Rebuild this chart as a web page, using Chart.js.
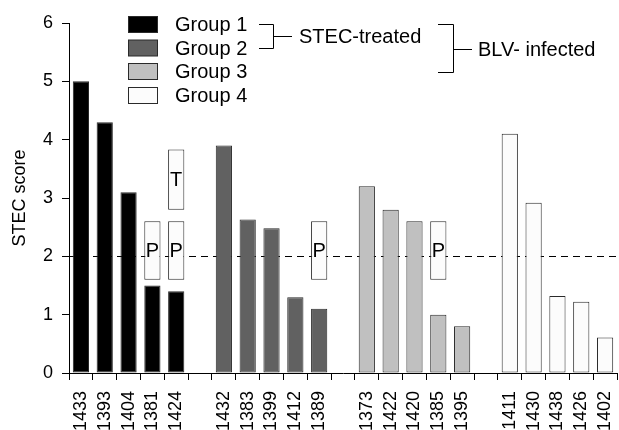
<!DOCTYPE html>
<html>
<head>
<meta charset="utf-8">
<script src="https://cdn.jsdelivr.net/npm/chart.js@4"></script>
<style>
  html, body { margin: 0; padding: 0; background: #fff; }
  #wrap { width: 619px; height: 430px; position: relative; }
</style>
</head>
<body>
<div id="wrap"><canvas id="c" width="619" height="430"></canvas></div>
<script>
// ---- Data ----
const groupNames = ['Group 1', 'Group 2', 'Group 3', 'Group 4'];
const group1Labels = ['1433', '1393', '1404', '1381', '1424'];
const group1Values = [5.0, 4.3, 3.1, 1.5, 1.4];
const group2Labels = ['1432', '1383', '1399', '1412', '1389'];
const group2Values = [3.9, 2.63, 2.48, 1.3, 1.1];
const group3Labels = ['1373', '1422', '1420', '1385', '1395'];
const group3Values = [3.2, 2.8, 2.6, 1.0, 0.8];
const group4Labels = ['1411', '1430', '1438', '1426', '1402'];
const group4Values = [4.1, 2.92, 1.32, 1.22, 0.61];
const groupColors = ['#000000', '#616161', '#c0c0c0', '#fcfcfc'];
// annotation boxes
const pBoxAnimals = ['1381', '1424', '1389', '1385'];
const pBoxRange = [1.6, 2.6];
const tBoxAnimals = ['1424'];
const tBoxRange = [2.8, 3.83];
const threshold = 2;
const yTicks = [0, 1, 2, 3, 4, 5, 6];

// ---- Build categories with blank gaps between groups ----
const groupLabels = [group1Labels, group2Labels, group3Labels, group4Labels];
const groupValues = [group1Values, group2Values, group3Values, group4Values];
const labels = [];
const groupIndexOfSlot = [];
groupLabels.forEach((g, gi) => {
  if (gi > 0) { labels.push(''); groupIndexOfSlot.push(-1); }
  g.forEach(l => { labels.push(l); groupIndexOfSlot.push(gi); });
});

const datasets = groupNames.map((name, gi) => ({
  label: name,
  data: labels.map((l, i) => {
    if (groupIndexOfSlot[i] !== gi) return null;
    return groupValues[gi][groupLabels[gi].indexOf(l)];
  }),
  backgroundColor: groupColors[gi],
  borderColor: '#2a2a2a',
  borderWidth: 1,
  borderSkipped: false,
  grouped: false,
  barPercentage: 0.68,
  categoryPercentage: 1.0,
  order: 2
}));

function boxData(animals, range) {
  return labels.map(l => (l && animals.includes(l)) ? [range[0], range[1]] : null);
}
datasets.push({
  label: 'P', letter: 'P', data: boxData(pBoxAnimals, pBoxRange),
  backgroundColor: '#fcfcfc', borderColor: '#2a2a2a', borderWidth: 1, borderSkipped: false,
  grouped: false, barPercentage: 0.68, categoryPercentage: 1.0, order: 1
});
datasets.push({
  label: 'T', letter: 'T', data: boxData(tBoxAnimals, tBoxRange),
  backgroundColor: '#fcfcfc', borderColor: '#2a2a2a', borderWidth: 1, borderSkipped: false,
  grouped: false, barPercentage: 0.68, categoryPercentage: 1.0, order: 1
});

const FONT = '"Liberation Sans", Arial, sans-serif';

const thresholdPlugin = {
  id: 'threshold',
  beforeDatasetsDraw(chart) {
    const { ctx, chartArea, scales } = chart;
    const y = Math.round(scales.y.getPixelForValue(threshold)) + 0.5;
    ctx.save();
    ctx.strokeStyle = '#000';
    ctx.lineWidth = 1;
    ctx.setLineDash([7, 5]);
    ctx.beginPath();
    ctx.moveTo(chartArea.left, y);
    ctx.lineTo(chartArea.right, y);
    ctx.stroke();
    ctx.restore();
  }
};

const annotPlugin = {
  id: 'annot',
  afterDatasetsDraw(chart) {
    const { ctx } = chart;
    ctx.save();
    ctx.fillStyle = '#000';
    ctx.font = '20px ' + FONT;
    ctx.textAlign = 'center';
    ctx.textBaseline = 'middle';
    chart.data.datasets.forEach((ds, di) => {
      if (!ds.letter) return;
      const meta = chart.getDatasetMeta(di);
      meta.data.forEach((el, i) => {
        if (ds.data[i] == null) return;
        const p = el.getProps(['x', 'y', 'base'], true);
        ctx.fillText(ds.letter, p.x, (p.y + p.base) / 2 + 1);
      });
    });
    ctx.restore();
  }
};

const legendPlugin = {
  id: 'customLegend',
  afterDraw(chart) {
    const { ctx } = chart;
    ctx.save();
    const rowY = [24.5, 48, 71.5, 95.5];
    ctx.font = '20px ' + FONT;
    ctx.textBaseline = 'middle';
    ctx.textAlign = 'left';
    groupNames.forEach((n, i) => {
      ctx.fillStyle = groupColors[i];
      ctx.fillRect(128.5, rowY[i] - 8, 29, 16);
      ctx.strokeStyle = '#2a2a2a';
      ctx.lineWidth = 1;
      ctx.strokeRect(128.5, rowY[i] - 8, 29, 16);
      ctx.fillStyle = '#000';
      ctx.fillText(n, 175, rowY[i] + 1);
    });
    // brackets
    ctx.strokeStyle = '#000';
    ctx.lineWidth = 1;
    ctx.beginPath();
    ctx.moveTo(259, 24.5); ctx.lineTo(273.5, 24.5); ctx.lineTo(273.5, 48.5); ctx.lineTo(259, 48.5);
    ctx.moveTo(273.5, 36.5); ctx.lineTo(292, 36.5);
    ctx.moveTo(438, 24.5); ctx.lineTo(453.5, 24.5); ctx.lineTo(453.5, 72.5); ctx.lineTo(438, 72.5);
    ctx.moveTo(453.5, 49.5); ctx.lineTo(472, 49.5);
    ctx.stroke();
    ctx.fillStyle = '#000';
    ctx.fillText('STEC-treated', 299, 37);
    ctx.fillText('BLV- infected', 478, 50);
    ctx.restore();
  }
};

new Chart(document.getElementById('c'), {
  type: 'bar',
  data: { labels, datasets },
  options: {
    responsive: false,
    animation: false,
    layout: { padding: { top: 23, right: 2, left: 0, bottom: 0 } },
    plugins: { legend: { display: false }, tooltip: { enabled: false } },
    scales: {
      x: {
        offset: true,
        grid: { display: true, drawOnChartArea: false, drawTicks: true, tickLength: 7, color: '#000', offset: true },
        border: { display: true, color: '#000', width: 1 },
        ticks: { color: '#000', font: { family: FONT, size: 18 }, maxRotation: 90, minRotation: 90, autoSkip: false, padding: 11 },
        afterFit(scale) { scale.height = 57; scale.paddingLeft = 0; scale.paddingRight = 0; }
      },
      y: {
        min: 0, max: 6,
        afterBuildTicks(scale) { scale.ticks = yTicks.map(v => ({ value: v })); },
        grid: { display: true, drawOnChartArea: false, drawTicks: true, tickLength: 7, color: '#000' },
        border: { display: true, color: '#000', width: 1 },
        ticks: { color: '#000', font: { family: FONT, size: 18 }, padding: 9 },
        title: { display: true, text: 'STEC score', color: '#000', font: { family: FONT, size: 18 }, padding: { top: 9, bottom: 0 } },
        afterFit(scale) { scale.width = 69; scale.paddingTop = 0; scale.paddingBottom = 0; }
      }
    }
  },
  plugins: [thresholdPlugin, annotPlugin, legendPlugin]
});
</script>
</body>
</html>
